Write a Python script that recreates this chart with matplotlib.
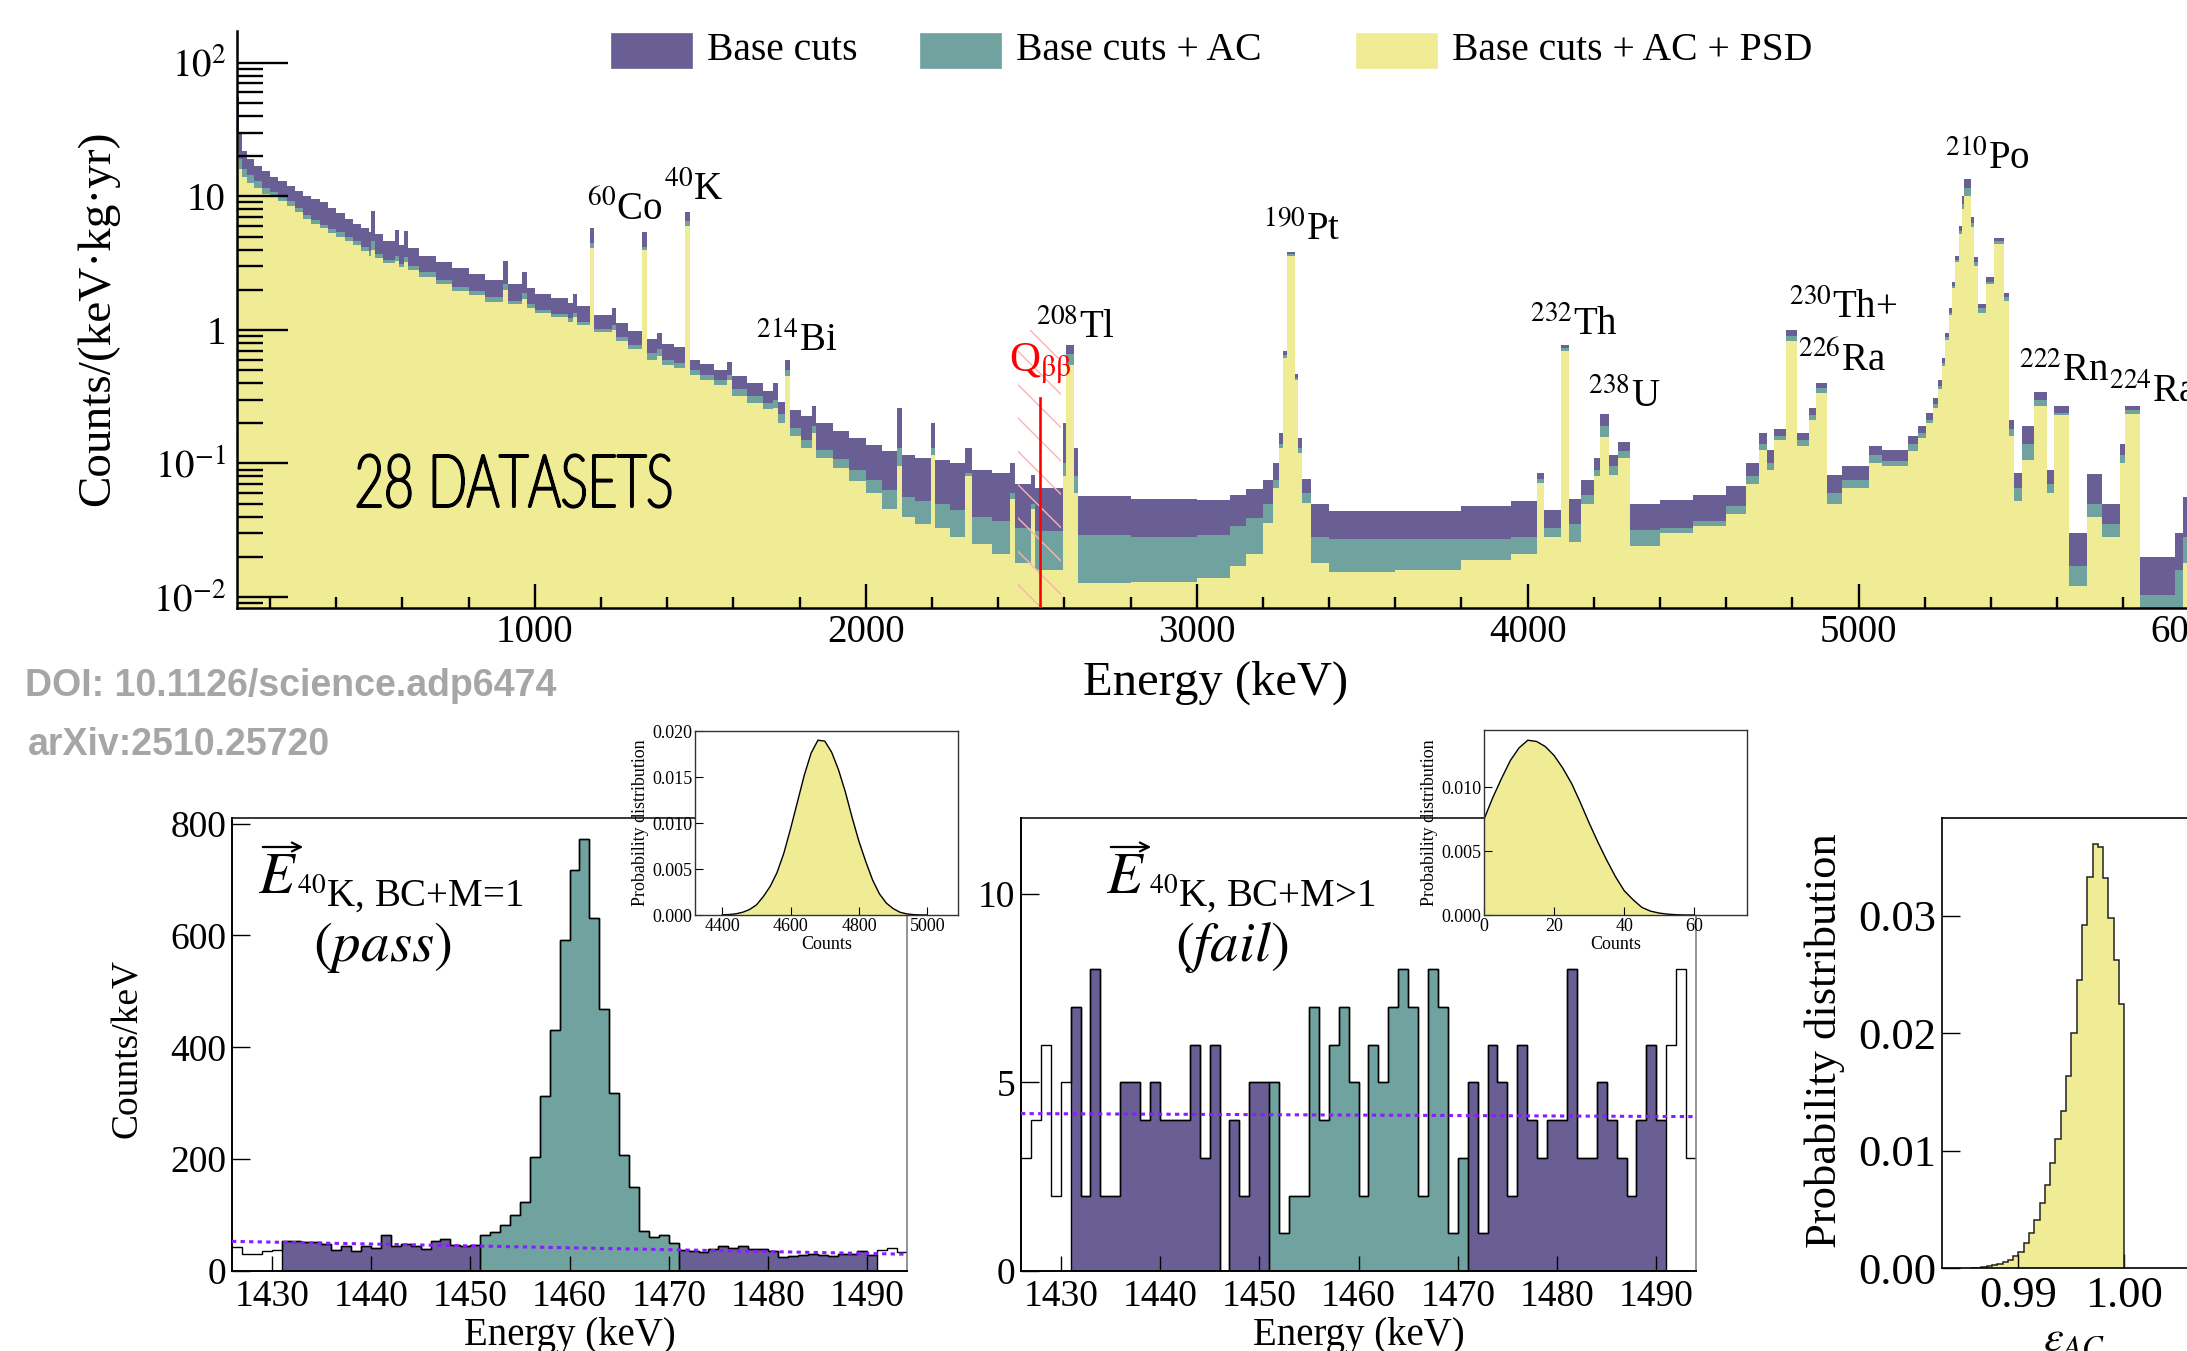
import numpy as np
import matplotlib
matplotlib.use("Agg")
import matplotlib.pyplot as plt
from matplotlib.patches import Rectangle, FancyArrowPatch, PathPatch
from matplotlib.ticker import LogLocator, NullFormatter
from matplotlib.textpath import TextPath
from matplotlib.font_manager import FontProperties
from matplotlib.transforms import Affine2D

plt.rcParams['font.family'] = 'serif'
plt.rcParams['font.serif'] = ['Liberation Serif', 'DejaVu Serif']
plt.rcParams['mathtext.fontset'] = 'stix'
plt.rcParams['hatch.linewidth'] = 1.0
plt.rcParams['hatch.color'] = '#ffb0b0'

PURPLE = '#6a5f94'
TEAL = '#70a3a0'
YELLOW = '#f0ec96'
VIOLET = '#8a1cff'

# ---------------- top spectrum (counts/(keV kg yr)) ----------------
# part A: 100 - 5150 keV
edges_a = [100, 106, 115, 130, 150, 175, 200, 225, 250, 275,
           300, 325, 350, 375, 400, 425, 450, 475, 500, 506,
           516, 540, 578, 590, 604, 616, 650, 700, 750, 800,
           850, 904, 918, 962, 975, 1000, 1050, 1100, 1114, 1127,
           1166, 1180, 1232, 1245, 1280, 1325, 1340, 1370, 1385, 1420,
           1453, 1468, 1500, 1540, 1580, 1595, 1640, 1690, 1720, 1735,
           1756, 1770, 1805, 1836, 1850, 1900, 1950, 2000, 2050, 2094,
           2110, 2150, 2196, 2210, 2255, 2300, 2322, 2380, 2436, 2452,
           2498, 2510, 2596, 2604, 2630, 2640, 2800, 3000, 3100, 3150,
           3200, 3232, 3250, 3262, 3272, 3298, 3306, 3318, 3345, 3400,
           3600, 3800, 3950, 4028, 4050, 4100, 4124, 4160, 4200, 4218,
           4245, 4272, 4308, 4400, 4500, 4600, 4660, 4700, 4722, 4745,
           4780, 4815, 4850, 4870, 4905, 4950, 5030, 5070]
base_a = [55, 30, 22, 19, 17, 15.5, 14, 13, 12, 11,
          10, 9.5, 9, 8.2, 7.5, 6.8, 6.2, 5.8, 5.4, 7.8,
          5.2, 4.6, 5.6, 4.3, 5.5, 4.1, 3.6, 3.2, 2.9, 2.6,
          2.35, 3.3, 2.2, 2.7, 2.05, 1.85, 1.72, 1.6, 1.85, 1.5,
          5.8, 1.3, 1.45, 1.12, 0.98, 5.4, 0.86, 0.95, 0.78, 0.74,
          7.7, 0.6, 0.56, 0.5, 0.58, 0.45, 0.40, 0.35, 0.40, 0.29,
          0.6, 0.25, 0.225, 0.27, 0.2, 0.175, 0.155, 0.138, 0.125, 0.26,
          0.115, 0.11, 0.2, 0.106, 0.1, 0.13, 0.09, 0.085, 0.1, 0.07,
          0.082, 0.065, 0.2, 0.77, 0.13, 0.057, 0.054, 0.053, 0.058, 0.064,
          0.075, 0.1, 0.17, 0.7, 3.8, 0.47, 0.155, 0.076, 0.05, 0.044,
          0.044, 0.048, 0.052, 0.085, 0.045, 0.77, 0.054, 0.075, 0.11, 0.234,
          0.115, 0.146, 0.05, 0.053, 0.058, 0.068, 0.1, 0.17, 0.126, 0.18,
          1.0, 0.17, 0.26, 0.4, 0.082, 0.095, 0.135, 0.126]
ac_a = [30, 19, 16, 14.5, 13, 11.5, 10.8, 10, 9.2, 8.2,
        7.3, 6.7, 6.1, 5.7, 5.4, 5.0, 4.6, 4.2, 3.9, 4.6,
        3.7, 3.35, 3.6, 3.1, 3.5, 3.0, 2.7, 2.35, 2.1, 1.95,
        1.75, 2.2, 1.65, 1.9, 1.55, 1.42, 1.32, 1.23, 1.35, 1.15,
        4.5, 1.02, 1.08, 0.88, 0.77, 4.2, 0.67, 0.72, 0.6, 0.57,
        6.5, 0.5, 0.46, 0.42, 0.46, 0.36, 0.32, 0.285, 0.30, 0.235,
        0.5, 0.185, 0.15, 0.19, 0.126, 0.108, 0.09, 0.075, 0.063, 0.13,
        0.056, 0.052, 0.13, 0.05, 0.045, 0.085, 0.04, 0.037, 0.06, 0.033,
        0.05, 0.031, 0.1, 0.66, 0.08, 0.029, 0.028, 0.029, 0.034, 0.039,
        0.05, 0.075, 0.14, 0.65, 3.7, 0.44, 0.13, 0.06, 0.028, 0.027,
        0.027, 0.027, 0.028, 0.076, 0.033, 0.73, 0.035, 0.058, 0.09, 0.19,
        0.095, 0.125, 0.032, 0.033, 0.037, 0.048, 0.08, 0.14, 0.1, 0.16,
        0.9, 0.15, 0.23, 0.37, 0.06, 0.075, 0.115, 0.105]
psd_a = [22, 16, 14, 12.5, 11.5, 10.5, 10, 9.2, 8.4, 7.6,
         6.8, 6.2, 5.75, 5.3, 5.0, 4.6, 4.3, 3.9, 3.6, 4.0,
         3.45, 3.15, 3.3, 2.95, 3.2, 2.8, 2.5, 2.2, 1.95, 1.82,
         1.63, 2.0, 1.55, 1.7, 1.45, 1.33, 1.24, 1.15, 1.25, 1.08,
         4.1, 0.96, 1.0, 0.82, 0.72, 4.0, 0.6, 0.64, 0.55, 0.52,
         6.0, 0.46, 0.42, 0.39, 0.42, 0.32, 0.285, 0.255, 0.26, 0.2,
         0.45, 0.16, 0.13, 0.17, 0.11, 0.092, 0.074, 0.06, 0.046, 0.095,
         0.04, 0.035, 0.116, 0.033, 0.028, 0.08, 0.025, 0.021, 0.054, 0.018,
         0.046, 0.016, 0.08, 0.55, 0.06, 0.0128, 0.013, 0.0138, 0.017, 0.021,
         0.036, 0.065, 0.13, 0.62, 3.55, 0.42, 0.12, 0.051, 0.018, 0.0155,
         0.016, 0.019, 0.021, 0.071, 0.028, 0.69, 0.026, 0.05, 0.08, 0.158,
         0.082, 0.11, 0.024, 0.03, 0.034, 0.042, 0.07, 0.126, 0.089, 0.15,
         0.83, 0.135, 0.21, 0.335, 0.05, 0.066, 0.1, 0.095]

# part B: 210Po rise (5150 - 5360 keV)
edges_b = [5150, 5180, 5205, 5225, 5240, 5252, 5262, 5272, 5282, 5292,
           5302, 5312, 5320, 5340, 5350]
base_b = [0.16, 0.19, 0.24, 0.31, 0.42, 0.62, 0.95, 1.45, 2.3, 3.6, 6.0, 10, 13.5, 7.0, 3.5]
ac_b = [0.14, 0.17, 0.21, 0.28, 0.38, 0.57, 0.88, 1.35, 2.15, 3.35, 5.5, 8.8, 11.5, 6.3, 3.2]
psd_b = [0.125, 0.155, 0.2, 0.26, 0.36, 0.54, 0.84, 1.3, 2.05, 3.2, 5.2, 8.0, 10, 5.9, 3.0]

# part C: 5360 - 6100 keV
edges_c = [5360, 5385, 5410, 5440, 5455, 5470, 5495, 5530, 5568, 5590,
           5635, 5690, 5735, 5790, 5805, 5850, 5955, 5980, 6100]
base_c = [1.55, 2.5, 4.9, 1.9, 0.21, 0.085, 0.19, 0.34, 0.089, 0.27,
          0.03, 0.083, 0.05, 0.14, 0.27, 0.02, 0.03, 0.056]
ac_c = [1.45, 2.3, 4.6, 1.75, 0.18, 0.065, 0.14, 0.3, 0.07, 0.24,
        0.017, 0.05, 0.035, 0.115, 0.25, 0.0104, 0.016, 0.028]
psd_c = [1.35, 2.2, 4.4, 1.65, 0.16, 0.052, 0.107, 0.27, 0.06, 0.23,
         0.012, 0.04, 0.028, 0.1, 0.235, 0.006, 0.008, 0.018]

spec_edges = edges_a + edges_b + edges_c
spec_base = base_a + base_b + base_c
spec_ac = ac_a + ac_b + ac_c
spec_psd = psd_a + psd_b + psd_c

legend_labels = ['Base cuts', 'Base cuts + AC', 'Base cuts + AC + PSD']

iso_labels = [r'$^{60}$Co', r'$^{40}$K', r'$^{214}$Bi', r'$^{208}$Tl', r'$^{190}$Pt',
              r'$^{232}$Th', r'$^{238}$U', r'$^{230}$Th+', r'$^{226}$Ra', r'$^{210}$Po',
              r'$^{222}$Rn', r'$^{224}$Ra']
iso_x = [1158, 1389, 1668, 2513, 3201, 4007, 4182, 4791, 4816, 5262, 5485, 5757]
iso_y = [6.7, 9.4, 0.69, 0.875, 4.67, 0.92, 0.264, 1.23, 0.5, 15.9, 0.417, 0.29]

Q_BB = 2527.5
qbb_band = [2460, 2590]

# ---------------- bottom histograms (counts / keV) ----------------
hist_edges = list(range(1426, 1495))
pass_counts = [43, 30, 31, 35, 37,
               53, 54, 52, 51, 48, 38, 44, 35, 45, 42,
               65, 44, 48, 44, 40, 54, 58, 46, 44, 47,
               64, 69, 83, 101, 123, 203, 313, 431, 592, 717,
               772, 632, 469, 319, 207, 151, 71, 60, 64, 50,
               38, 36, 34, 39, 45, 42, 45, 39, 39, 35,
               25, 26, 28, 31, 29, 27, 31, 30, 35, 28,
               38, 42, 34]
fail_counts = [3, 4, 6, 2, 5,
               7, 2, 8, 2, 2, 5, 5, 4, 5, 4,
               4, 4, 6, 3, 6, 0, 4, 2, 5, 5,
               5, 1, 2, 2, 7, 4, 6, 7, 5, 2,
               6, 5, 7, 8, 7, 2, 8, 7, 1, 3,
               5, 1, 6, 5, 2, 6, 4, 3, 4, 4,
               8, 3, 3, 5, 4, 3, 2, 4, 6, 4,
               6, 8, 3]
region_edges = [1431, 1451, 1471, 1491]
pass_fit_x = [1426, 1494]
pass_fit_y = [53, 30]
fail_fit_x = [1426, 1494]
fail_fit_y = [4.17, 4.09]

# insets: posterior of signal counts
pass_inset_x = [4400, 4420, 4440, 4460, 4480, 4500, 4520, 4540, 4560, 4580,
                4600, 4620, 4640, 4660, 4680, 4700, 4720, 4740, 4760, 4780,
                4800, 4820, 4840, 4860, 4880, 4900, 4920, 4940, 4960, 4980, 5000]
pass_inset_p = [0.00002, 0.00005, 0.00013, 0.0003, 0.0006, 0.0011, 0.0020, 0.0031, 0.0046, 0.0067,
                0.0094, 0.0123, 0.0152, 0.0176, 0.0190, 0.0189, 0.0177, 0.0158, 0.0134, 0.0106,
                0.0080, 0.0058, 0.0038, 0.0023, 0.0013, 0.0007, 0.0003, 0.00012, 0.00004, 0.00001, 0.0]
fail_inset_x = [0, 2.5, 5, 7.5, 10, 12.5, 15, 17.5, 20, 22.5, 25, 27.5, 30, 32.5,
                35, 37.5, 40, 42.5, 45, 47.5, 50, 52.5, 55, 57.5, 60]
fail_inset_p = [0.0075, 0.0092, 0.0107, 0.0121, 0.0131, 0.0137, 0.0136, 0.0132, 0.0125, 0.0115,
                0.0103, 0.0088, 0.0072, 0.0057, 0.0043, 0.0030, 0.0019, 0.0012, 0.0006, 0.0003,
                0.00015, 0.00006, 0.00002, 0.0, 0.0]

# right panel: AC efficiency posterior
eps_edges = [0.9855, 0.9860, 0.9865, 0.9870, 0.9875, 0.9880, 0.9885, 0.9890, 0.9895, 0.9900,
             0.9905, 0.9910, 0.9915, 0.9920, 0.9925, 0.9930, 0.9935, 0.9940, 0.9945, 0.9950,
             0.9955, 0.9960, 0.9965, 0.9970, 0.9975, 0.9980, 0.9985, 0.9990, 0.9995, 1.0000]
eps_prob = [0.00002, 0.00004, 0.00008, 0.00014, 0.00022, 0.00034, 0.0005, 0.0007, 0.0010, 0.0014,
            0.0021, 0.0030, 0.0041, 0.0055, 0.0071, 0.0089, 0.0110, 0.0134, 0.0163, 0.0200,
            0.0245, 0.0292, 0.0333, 0.0361, 0.0358, 0.0332, 0.0298, 0.0262, 0.0225]

# ---------------- figure ----------------
W, H = 2187, 1351
fig = plt.figure(figsize=(W / 100, H / 100), dpi=100)


def rect(l, t, r, b):
    return [l / W, 1 - b / H, (r - l) / W, (b - t) / H]


def fpos(x, y):
    return x / W, 1 - y / H


# ======== top panel ========
ax = fig.add_axes(rect(237, 31, 2355, 608))
ax.set_yscale('log')
ylo, yhi = 10 ** -2.082, 10 ** 2.238
for vals, col in [(spec_base, PURPLE), (spec_ac, TEAL), (spec_psd, YELLOW)]:
    ax.stairs(vals, spec_edges, baseline=1e-4, fill=True, color=col, lw=0, zorder=1)
ax.set_xlim(100, 6500)
ax.set_ylim(ylo, yhi)

ax.fill_between(qbb_band, [ylo, ylo], [1.0, 1.0], facecolor='none',
                edgecolor='#ffb0b0', hatch='\\', lw=0, zorder=3)
ax.plot([Q_BB, Q_BB], [ylo, 0.31], color='red', lw=1.9, zorder=4)
ax.text(2433, 0.48, r'Q$_{\mathrm{\beta\beta}}$', color='red', fontsize=31, ha='left', va='baseline', zorder=5)

for lab, xx, yy in zip(iso_labels, iso_x, iso_y):
    ax.text(xx, yy, lab, fontsize=28, ha='left', va='baseline', zorder=5)

for s in ['top', 'right']:
    ax.spines[s].set_visible(False)
for s in ['left', 'bottom']:
    ax.spines[s].set_linewidth(1.8)
ax.set_xticks([1000, 2000, 3000, 4000, 5000, 6000])
ax.set_xticks(list(range(200, 6501, 200)), minor=True)
ax.set_yticks([1e-2, 1e-1, 1, 10, 100])
ax.set_yticklabels([r'$10^{-2}$', r'$10^{-1}$', '1', '10', r'$10^{2}$'])
ax.yaxis.set_minor_locator(LogLocator(base=10, subs=np.arange(2, 10)))
ax.yaxis.set_minor_formatter(NullFormatter())
ax.tick_params(axis='y', which='major', direction='in', length=37, width=1.7, labelsize=28, pad=8)
ax.tick_params(axis='y', which='minor', direction='in', length=19, width=1.7)
ax.tick_params(axis='x', which='major', direction='in', length=17, width=1.7, labelsize=28, pad=4)
ax.tick_params(axis='x', which='minor', direction='in', length=8, width=1.7)

fig.text(*fpos(98, 318), 'Counts/(keV\u00b7kg\u00b7yr)', rotation=90, fontsize=34, ha='center', va='center')
fig.text(*fpos(1216, 683), 'Energy (keV)', fontsize=35, ha='center', va='center')

# "28 DATASETS" (narrow pen-lettered look): thin text path, stroked, fitted into its box
tp = TextPath((0, 0), '28 DATASETS', size=100,
              prop=FontProperties(family=['Lato', 'DejaVu Sans'], weight='light'))
ext = tp.get_extents()
bx0, bx1, by0, by1 = 358, 670, 455, 507
tr = (Affine2D().translate(-ext.x0, -ext.y0)
      .scale((bx1 - bx0) / ext.width / W, (by1 - by0) / ext.height / H)
      .translate(bx0 / W, 1 - by1 / H) + fig.transFigure)
fig.add_artist(PathPatch(tp, transform=tr, facecolor='black', edgecolor='black',
                         lw=2.3, joinstyle='round', capstyle='round'))

# legend (manual)
leg_cols = [PURPLE, TEAL, YELLOW]
leg_patch_x = [611, 920, 1356]
for lab, col, px in zip(legend_labels, leg_cols, leg_patch_x):
    l, b = fpos(px, 68)
    fig.add_artist(Rectangle((l, b), 81 / W, 35 / H, transform=fig.transFigure,
                             facecolor=col, edgecolor=col, lw=0.5))
    fig.text(*fpos(px + 96, 50), lab, fontsize=28.5, ha='left', va='center')

# DOI texts
fig.text(*fpos(25, 696), 'DOI: 10.1126/science.adp6474', fontsize=27, color='#a6a6a6',
         family=['Liberation Sans', 'DejaVu Sans'], weight='bold', ha='left', va='baseline')
fig.text(*fpos(28, 755), 'arXiv:2510.25720', fontsize=27, color='#a6a6a6',
         family=['Liberation Sans', 'DejaVu Sans'], weight='bold', ha='left', va='baseline')


# ======== bottom histogram panels ========
def hist_panel(axh, counts):
    e = np.asarray(hist_edges, dtype=float)
    c = np.asarray(counts, dtype=float)
    cols = [PURPLE, TEAL, PURPLE]
    for k, col in enumerate(cols):
        i0 = int(np.searchsorted(e, region_edges[k]))
        i1 = int(np.searchsorted(e, region_edges[k + 1]))
        axh.stairs(c[i0:i1], e[i0:i1 + 1], baseline=0, fill=True, color=col, lw=0, zorder=1)
        axh.stairs(c[i0:i1], e[i0:i1 + 1], baseline=0, fill=False, color='black', lw=1.0, zorder=2)
    axh.stairs(c, e, baseline=None, color='black', lw=1.0, zorder=2)
    axh.set_xlim(1426, 1494)
    axh.set_xticks([1430, 1440, 1450, 1460, 1470, 1480, 1490])
    axh.tick_params(axis='x', direction='in', length=11, width=1.0, labelsize=27, pad=6, top=False)
    axh.tick_params(axis='y', direction='in', length=13, width=1.0, labelsize=27, pad=4, right=False)
    axh.spines['left'].set_linewidth(1.4)
    axh.spines['bottom'].set_linewidth(1.4)
    axh.spines['top'].set_linewidth(1.1)
    axh.spines['right'].set_linewidth(1.1)
    axh.spines['right'].set_color('#777777')
    for t in axh.get_xticklines() + axh.get_yticklines():
        t.set_zorder(5)


axp = fig.add_axes(rect(232, 818, 907, 1271))
hist_panel(axp, pass_counts)
axp.plot(pass_fit_x, pass_fit_y, color=VIOLET, lw=2.2, ls=(0, (1.4, 1.4)), zorder=4)
axp.set_ylim(0, 810)
axp.set_yticks([0, 200, 400, 600, 800])
axp.set_xlabel('Energy (keV)', fontsize=28, labelpad=2)
fig.text(*fpos(128, 1048), 'Counts/keV', rotation=90, fontsize=27, ha='center', va='center')

axf = fig.add_axes(rect(1021, 818, 1696, 1271))
hist_panel(axf, fail_counts)
axf.plot(fail_fit_x, fail_fit_y, color=VIOLET, lw=2.2, ls=(0, (1.4, 1.4)), zorder=4)
axf.set_ylim(0, 12)
axf.set_yticks([0, 5, 10])
axf.set_xlabel('Energy (keV)', fontsize=28, labelpad=2)


def vec_label(x_e, x_sub, x_paren, word, sub):
    fig.text(*fpos(x_e, 893), r'$E$', fontsize=42, ha='left', va='baseline')
    fig.add_artist(FancyArrowPatch(fpos(x_e + 2, 847), fpos(x_e + 48, 847),
                                   transform=fig.transFigure, arrowstyle='->',
                                   mutation_scale=16, lw=1.6, color='black'))
    fig.text(*fpos(x_sub, 907), sub, fontsize=28, ha='left', va='baseline')
    fig.text(*fpos(x_paren, 961), word, fontsize=41, ha='center', va='baseline')


vec_label(258, 297, 382, r'$(pass)$', r'$^{40}$K, BC+M=1')
vec_label(1106, 1149, 1232, r'$(fail)$', r'$^{40}$K, BC+M>1')

# ======== right panel ========
axe = fig.add_axes(rect(1942, 818, 2209, 1268))
axe.stairs(eps_prob, eps_edges, baseline=0, fill=True, color=YELLOW, lw=0, zorder=1)
axe.stairs(eps_prob, eps_edges, baseline=0, fill=False, color='#222222', lw=1.1, zorder=2)
axe.set_xlim(0.98278, 1.008)
axe.set_ylim(0, 0.0383)
axe.set_xticks([0.99, 1.00])
axe.set_xticklabels(['0.99', '1.00'])
axe.set_yticks([0, 0.01, 0.02, 0.03])
axe.set_yticklabels(['0.00', '0.01', '0.02', '0.03'])
axe.tick_params(axis='x', direction='in', length=10, width=1.0, labelsize=32, pad=6, top=False)
axe.tick_params(axis='y', direction='in', length=13, width=1.0, labelsize=32, pad=4, right=False)
for s in axe.spines.values():
    s.set_linewidth(1.2)
fig.text(*fpos(1825, 1041), 'Probability distribution', rotation=90, fontsize=32, ha='center', va='center')
fig.text(*fpos(2074, 1340), r'$\epsilon_{AC}$', fontsize=32, ha='center', va='center')


# ======== insets ========
def inset(r, xs, ps, xlim, ylim, xt, yt, ytl):
    ai = fig.add_axes(r)
    ai.set_facecolor('white')
    ai.fill_between(xs, ps, 0, color=YELLOW, lw=0)
    ai.plot(xs, ps, color='black', lw=1.0)
    ai.set_xlim(*xlim)
    ai.set_ylim(*ylim)
    ai.set_xticks(xt)
    ai.set_yticks(yt)
    ai.set_yticklabels(ytl)
    ai.tick_params(direction='in', length=6, width=0.8, labelsize=13, pad=2, top=False, right=False)
    for s in ai.spines.values():
        s.set_linewidth(1.0)
        s.set_color('#333333')
    ai.set_xlabel('Counts', fontsize=13, labelpad=1)
    ai.set_ylabel('Probability distribution', fontsize=13, labelpad=2)
    return ai


inset(rect(695, 731, 958, 915), pass_inset_x, pass_inset_p, (4320, 5090), (0, 0.020),
      [4400, 4600, 4800, 5000], [0, 0.005, 0.010, 0.015, 0.020],
      ['0.000', '0.005', '0.010', '0.015', '0.020'])
inset(rect(1484, 730, 1747, 915), fail_inset_x, fail_inset_p, (0, 75), (0, 0.0145),
      [0, 20, 40, 60], [0, 0.005, 0.010], ['0.000', '0.005', '0.010'])

fig.savefig('out.png', dpi=100)
